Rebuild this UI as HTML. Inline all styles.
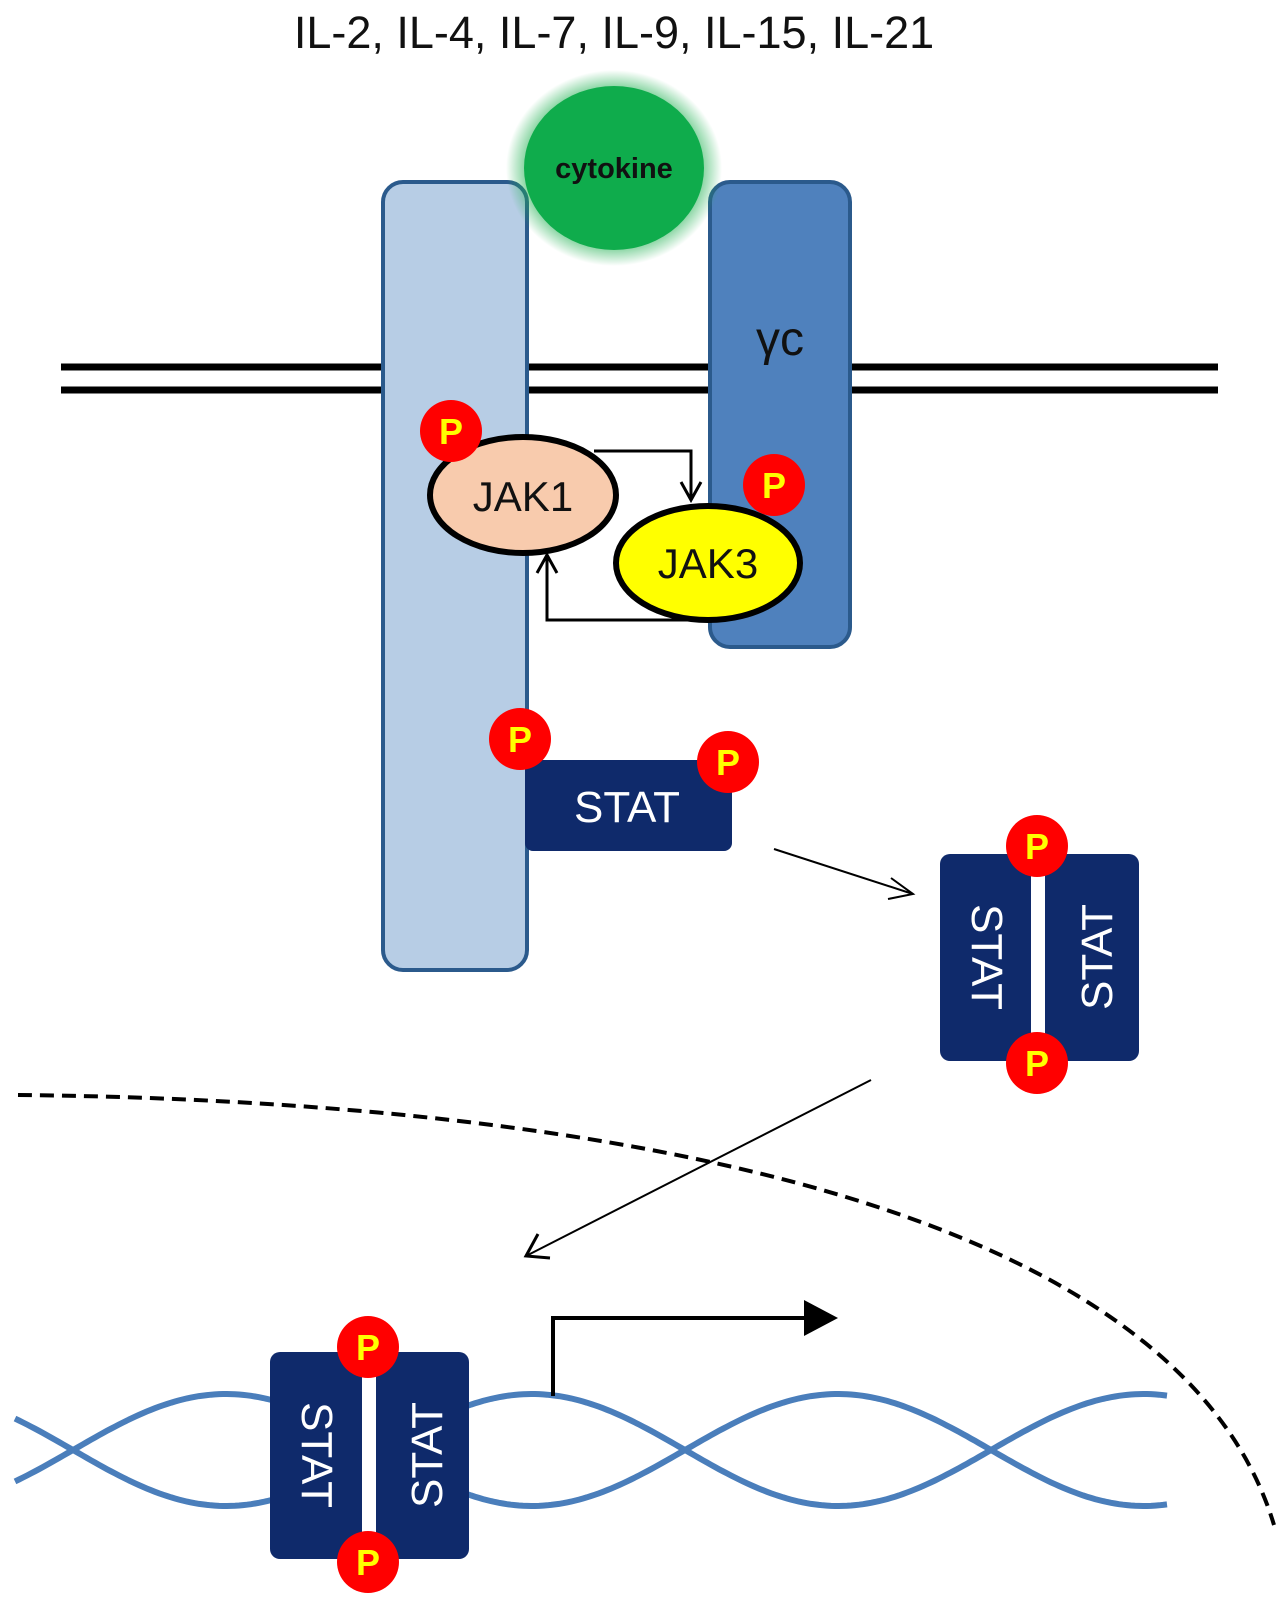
<!DOCTYPE html>
<html><head><meta charset="utf-8"><style>
html,body{margin:0;padding:0;background:#fff;}
svg{display:block;}
text{font-family:"Liberation Sans",sans-serif;}
</style></head><body>
<svg id="s" width="1280" height="1598" viewBox="0 0 1280 1598" xmlns="http://www.w3.org/2000/svg">
<defs>
<radialGradient id="glow" cx="50%" cy="50%" r="50%">
<stop offset="80%" stop-color="#1fb050" stop-opacity="0.6"/>
<stop offset="100%" stop-color="#1fb050" stop-opacity="0"/>
</radialGradient>
</defs>
<text x="614" y="48" font-size="45" text-anchor="middle" fill="#111">IL-2, IL-4, IL-7, IL-9, IL-15, IL-21</text>
<line x1="61" y1="367" x2="1218" y2="367" stroke="#000" stroke-width="7"/>
<line x1="61" y1="390" x2="1218" y2="390" stroke="#000" stroke-width="7"/>
<rect x="383" y="182" width="144" height="788" rx="20" fill="#b7cde5" stroke="#2b5a8c" stroke-width="4"/>
<rect x="710" y="182" width="140" height="465" rx="20" fill="#4f81bd" stroke="#2b5a8c" stroke-width="4"/>
<text x="780" y="355" font-size="48" text-anchor="middle" fill="#111">γc</text>
<ellipse cx="614" cy="168" rx="108" ry="98" fill="url(#glow)"/>
<ellipse cx="614" cy="168" rx="90" ry="82" fill="#0fac4c"/>
<text x="614" y="178" font-size="29" font-weight="bold" text-anchor="middle" fill="#111">cytokine</text>
<polyline points="594,451 691,451 691,499" fill="none" stroke="#000" stroke-width="3"/>
<polyline points="681,482 691,500 701,482" fill="none" stroke="#000" stroke-width="3"/>
<ellipse cx="523" cy="495" rx="93" ry="58" fill="#f8cbad" stroke="#000" stroke-width="6"/>
<text x="523" y="511" font-size="42" text-anchor="middle" fill="#111">JAK1</text>
<ellipse cx="708" cy="563" rx="92" ry="57" fill="#ffff00" stroke="#000" stroke-width="6"/>
<text x="708" y="578" font-size="42" text-anchor="middle" fill="#111">JAK3</text>
<polyline points="693,620 547,620 547,556" fill="none" stroke="#000" stroke-width="3"/>
<polyline points="537,573 547,555 557,573" fill="none" stroke="#000" stroke-width="3"/>
<rect x="525" y="760" width="207" height="91" rx="8" fill="#0f2a6b"/>
<text x="627" y="822" font-size="44" text-anchor="middle" fill="#fff">STAT</text>
<line x1="774" y1="849" x2="913" y2="894" stroke="#000" stroke-width="2"/>
<polyline points="891,878 913,894 888,899" fill="none" stroke="#000" stroke-width="2"/>
<rect x="940" y="854" width="199" height="207" rx="10" fill="#0f2a6b"/>
<rect x="1031" y="850" width="14" height="215" fill="#fff"/>
<text transform="translate(972,957) rotate(90)" font-size="44" text-anchor="middle" fill="#fff">STAT</text>
<text transform="translate(1112,957) rotate(-90)" font-size="44" text-anchor="middle" fill="#fff">STAT</text>
<path d="M18 1095 C 520 1100, 1170 1180, 1274 1525" fill="none" stroke="#000" stroke-width="4" stroke-dasharray="14,8"/>
<line x1="871" y1="1080" x2="526" y2="1256" stroke="#000" stroke-width="2"/>
<polyline points="538,1234 526,1256 550,1258" fill="none" stroke="#000" stroke-width="3"/>
<path id="d1" fill="none" stroke="#4a7ebb" stroke-width="6"/>
<path id="d2" fill="none" stroke="#4a7ebb" stroke-width="6"/>
<polyline points="553,1396 553,1318 808,1318" fill="none" stroke="#000" stroke-width="4"/>
<polygon points="804,1300 838,1318 804,1336" fill="#000"/>
<rect x="270" y="1352" width="199" height="207" rx="10" fill="#0f2a6b"/>
<rect x="362" y="1348" width="14" height="215" fill="#fff"/>
<text transform="translate(302,1455) rotate(90)" font-size="44" text-anchor="middle" fill="#fff">STAT</text>
<text transform="translate(442,1455) rotate(-90)" font-size="44" text-anchor="middle" fill="#fff">STAT</text>
<g id="ps"></g>
</svg>
<script>
(function(){
var ns="http://www.w3.org/2000/svg";
function wave(sign){var d="";for(var x=15;x<=1169;x+=4){var y=1450+sign*56*Math.sin(Math.PI*(x-73)/306);d+=(x==15?"M":"L")+x+" "+y.toFixed(1)+" ";}return d;}
document.getElementById("d1").setAttribute("d",wave(1));
document.getElementById("d2").setAttribute("d",wave(-1));
var P=[[451,431],[774,485],[520,739],[728,762],[1037,846],[1037,1063],[368,1347],[368,1562]];
var g=document.getElementById("ps");
P.forEach(function(p){
var c=document.createElementNS(ns,"circle");c.setAttribute("cx",p[0]);c.setAttribute("cy",p[1]);c.setAttribute("r",31);c.setAttribute("fill","#ff0000");g.appendChild(c);
var t=document.createElementNS(ns,"text");t.setAttribute("x",p[0]);t.setAttribute("y",p[1]+13);t.setAttribute("font-size","36");t.setAttribute("font-weight","bold");t.setAttribute("text-anchor","middle");t.setAttribute("fill","#ffff00");t.textContent="P";g.appendChild(t);
});
})();
</script>
</body></html>
